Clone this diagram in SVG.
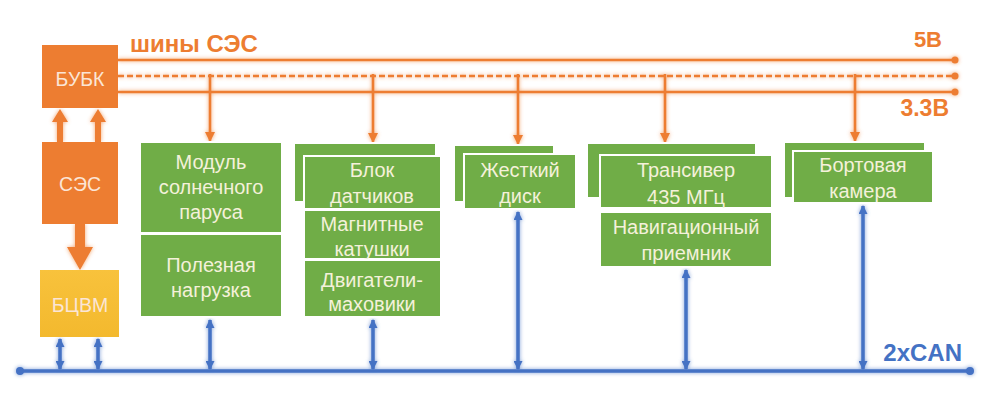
<svg xmlns="http://www.w3.org/2000/svg" width="997" height="420" viewBox="0 0 997 420">
<defs>
<style>
.g{fill:#70ad47;stroke:#ffffff;stroke-width:2}
.t{font-family:"Liberation Sans",Arial,sans-serif;font-size:20px;fill:#f4f1da;text-anchor:middle}
.w{font-family:"Liberation Sans",Arial,sans-serif;font-size:19.5px;fill:#fbe5d6;text-anchor:middle}
.ol{stroke:#ed7d31;stroke-width:2.6;fill:none}
.bl{stroke:#4472c4;stroke-width:3.5;fill:none}
.lbl{font-family:"Liberation Sans",Arial,sans-serif;font-weight:bold}
</style>
<filter id="glow" x="-50%" y="-50%" width="200%" height="200%">
<feGaussianBlur in="SourceGraphic" stdDeviation="2" result="b"/>
<feComponentTransfer in="b" result="c"><feFuncA type="linear" slope="0.7"/></feComponentTransfer>
<feMerge><feMergeNode in="c"/><feMergeNode in="SourceGraphic"/></feMerge>
</filter>
<marker id="ba" markerWidth="10" markerHeight="9" refX="9" refY="5" orient="auto-start-reverse" markerUnits="userSpaceOnUse" viewBox="0 0 10 10">
<path d="M0,0 L10,5 L0,10 Z" fill="#4472c4"/>
</marker>
<marker id="oa2" markerWidth="10" markerHeight="11" refX="9" refY="5" orient="auto" markerUnits="userSpaceOnUse" viewBox="0 0 10 10">
<path d="M0,0 L10,5 L0,10 Z" fill="#ed7d31"/>
</marker>
<linearGradient id="yg" x1="0" y1="0" x2="0" y2="1">
<stop offset="0" stop-color="#f8c23c"/>
<stop offset="1" stop-color="#f3b92e"/>
</linearGradient>
</defs>
<rect width="997" height="420" fill="#ffffff"/>

<g id="connectors">
<g filter="url(#glow)">
<line class="ol" x1="118" y1="60" x2="955" y2="60"/>
<line class="ol" x1="118" y1="76" x2="955" y2="76" stroke-dasharray="6,3"/>
<line class="ol" x1="118" y1="92" x2="955" y2="92"/>
<circle cx="955" cy="60" r="3.5" fill="#ed7d31"/>
<circle cx="955" cy="76" r="3.5" fill="#ed7d31"/>
<circle cx="955" cy="92" r="3.5" fill="#ed7d31"/>
<line class="ol" x1="210" y1="74" x2="210" y2="141" marker-end="url(#oa2)"/>
<line class="ol" x1="373" y1="74" x2="373" y2="142" marker-end="url(#oa2)"/>
<line class="ol" x1="518" y1="74" x2="518" y2="144" marker-end="url(#oa2)"/>
<line class="ol" x1="665" y1="74" x2="665" y2="142" marker-end="url(#oa2)"/>
<line class="ol" x1="855" y1="74" x2="855" y2="141" marker-end="url(#oa2)"/>
<path d="M57,142 V122 H52 L60,109 L68,122 H63 V142 Z" fill="#ed7d31"/>
<path d="M95,142 V122 H90 L98,109 L106,122 H101 V142 Z" fill="#ed7d31"/>
<path d="M75,224 V247 H67 L80,270 L93,247 H85 V224 Z" fill="#ed7d31"/>
</g>
<g filter="url(#glow)">
<line class="bl" x1="20" y1="371" x2="970" y2="371" stroke-width="3"/>
<circle cx="20" cy="371" r="4" fill="#4472c4"/>
<circle cx="970" cy="371" r="4" fill="#4472c4"/>
<line class="bl" x1="60" y1="339" x2="60" y2="369" marker-start="url(#ba)" marker-end="url(#ba)"/>
<line class="bl" x1="98" y1="339" x2="98" y2="369" marker-start="url(#ba)" marker-end="url(#ba)"/>
<line class="bl" x1="210" y1="320" x2="210" y2="369" marker-start="url(#ba)" marker-end="url(#ba)"/>
<line class="bl" x1="373" y1="320" x2="373" y2="369" marker-start="url(#ba)" marker-end="url(#ba)"/>
<line class="bl" x1="518" y1="212" x2="518" y2="369" marker-start="url(#ba)" marker-end="url(#ba)"/>
<line class="bl" x1="686" y1="270" x2="686" y2="369" marker-start="url(#ba)" marker-end="url(#ba)"/>
<line class="bl" x1="863" y1="206" x2="863" y2="369" marker-start="url(#ba)" marker-end="url(#ba)"/>
</g>
</g>

<g id="labels">
<text class="lbl" x="130" y="52" font-size="24" fill="#ed7d31">шины СЭС</text>
<text class="lbl" x="942" y="47" font-size="22" fill="#ed7d31" text-anchor="end">5В</text>
<text class="lbl" x="949" y="116" font-size="23" fill="#ed7d31" text-anchor="end">3.3В</text>
<text class="lbl" x="962" y="361" font-size="24" fill="#4472c4" text-anchor="end">2xCAN</text>
</g>

<g id="bubk">
<rect x="42" y="45" width="76" height="63" fill="#ed7d31"/>
<text class="w" x="80" y="86">БУБК</text>
</g>
<g id="ses">
<rect x="42" y="142" width="76" height="82" fill="#ed7d31"/>
<text class="w" x="80" y="191">СЭС</text>
</g>
<g id="bcvm">
<rect x="40" y="270" width="79" height="67" fill="url(#yg)"/>
<text class="w" x="80" y="312" fill="#fdecb5">БЦВМ</text>
</g>

<g id="solar">
<rect class="g" x="140" y="142" width="142" height="91"/>
<text class="t" x="211" y="169">Модуль</text>
<text class="t" x="211" y="194">солнечного</text>
<text class="t" x="211" y="219">паруса</text>
</g>
<g id="payload">
<rect class="g" x="140" y="234" width="142" height="83"/>
<text class="t" x="211" y="272">Полезная</text>
<text class="t" x="211" y="297">нагрузка</text>
</g>

<g id="sensors">
<rect class="g" x="294" y="143" width="142" height="59"/>
<rect class="g" x="304" y="156" width="137" height="53"/>
<text class="t" x="372" y="177">Блок</text>
<text class="t" x="372" y="203">датчиков</text>
</g>
<g id="coils">
<rect class="g" x="304" y="210" width="137" height="49"/>
<text class="t" x="372" y="231">Магнитные</text>
<text class="t" x="372" y="256">катушки</text>
</g>
<g id="wheels">
<rect class="g" x="304" y="260" width="137" height="57"/>
<text class="t" x="372" y="287">Двигатели-</text>
<text class="t" x="372" y="311">маховики</text>
</g>

<g id="disk">
<rect class="g" x="454" y="145" width="100" height="57"/>
<rect class="g" x="464" y="154" width="112" height="55"/>
<text class="t" x="520" y="177">Жесткий</text>
<text class="t" x="520" y="203">диск</text>
</g>

<g id="transceiver">
<rect class="g" x="587" y="143" width="169" height="55"/>
<rect class="g" x="600" y="155" width="172" height="53"/>
<text class="t" x="686" y="177">Трансивер</text>
<text class="t" x="686" y="204">435 МГц</text>
</g>
<g id="navigation">
<rect class="g" x="600" y="212" width="172" height="55"/>
<text class="t" x="686" y="234">Навигационный</text>
<text class="t" x="686" y="260">приемник</text>
</g>

<g id="camera">
<rect class="g" x="784" y="142" width="141" height="56"/>
<rect class="g" x="793" y="151" width="140" height="52"/>
<text class="t" x="863" y="172">Бортовая</text>
<text class="t" x="863" y="198">камера</text>
</g>
</svg>
